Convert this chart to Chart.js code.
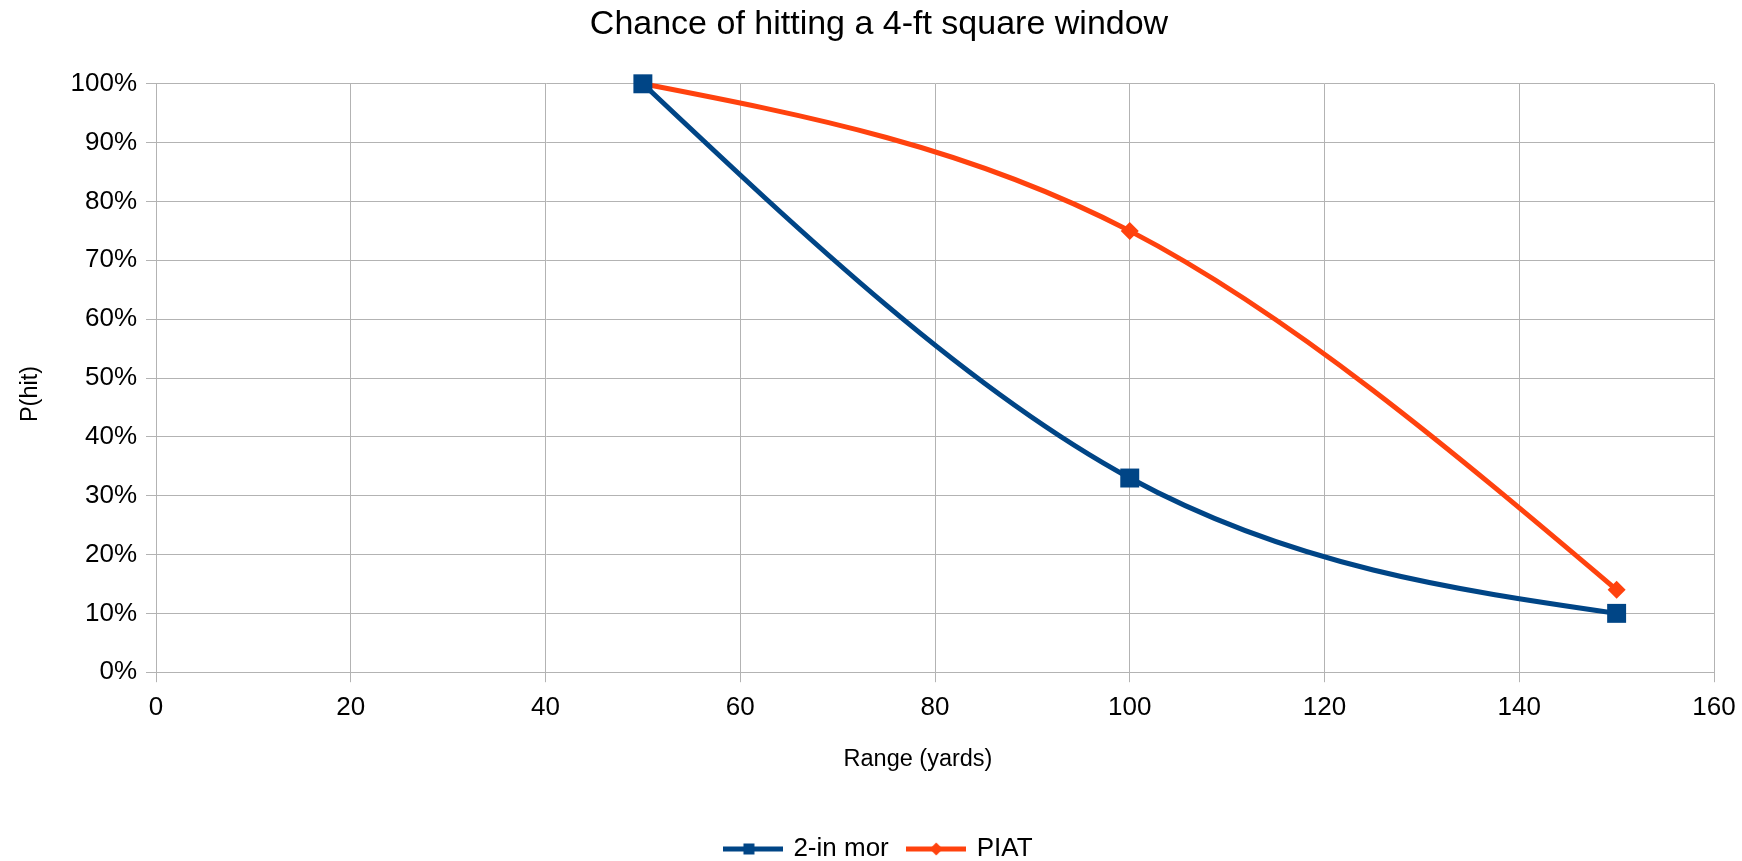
<!DOCTYPE html>
<html>
<head>
<meta charset="utf-8">
<title>Chance of hitting a 4-ft square window</title>
<script src="https://cdn.jsdelivr.net/npm/chart.js@4.4.1/dist/chart.umd.min.js"></script>
<style>
    html, body { margin: 0; padding: 0; background: #ffffff; }
    #wrap { width: 1742px; height: 861px; }
</style>
</head>
<body>
<div id="wrap"><canvas id="chart" width="1742" height="861"></canvas></div>
<script>
/* ==========================
   DADOS
========================== */
const ranges = [50, 100, 150];
const mortarHit = [1.00, 0.33, 0.10];
const piatHit = [1.00, 0.75, 0.14];
const seriesNames = ["2-in mor", "PIAT"];
const xTicks = [0, 20, 40, 60, 80, 100, 120, 140, 160];
const yTicks = [0, 0.1, 0.2, 0.3, 0.4, 0.5, 0.6, 0.7, 0.8, 0.9, 1.0];

const BLUE = "#004586";
const ORANGE = "#ff420e";
const GRID = "#b3b3b3";
const FONT = "'Liberation Sans', Arial, sans-serif";

function toPoints(xs, ys) {
    return xs.map((x, i) => ({ x: x, y: ys[i] }));
}

/* ==========================
   SPLINE CÚBICA NATURAL (como no LibreOffice)
========================== */
function naturalSlopes(xs, ys) {
    const n = xs.length;
    const h = [], d = [];
    for (let i = 0; i < n - 1; i++) {
        h[i] = xs[i + 1] - xs[i];
        d[i] = (ys[i + 1] - ys[i]) / h[i];
    }
    const M = new Array(n).fill(0);
    if (n > 2) {
        const cp = [], rp = [];
        for (let i = 1; i < n - 1; i++) {
            const a = h[i - 1], b = 2 * (h[i - 1] + h[i]), c = h[i];
            const r = 6 * (d[i] - d[i - 1]);
            const m = b - (i > 1 ? a * cp[i - 1] : 0);
            cp[i] = c / m;
            rp[i] = (r - (i > 1 ? a * rp[i - 1] : 0)) / m;
        }
        for (let i = n - 2; i >= 1; i--) {
            M[i] = rp[i] - (i < n - 2 ? cp[i] * M[i + 1] : 0);
        }
    }
    const s = [];
    for (let i = 0; i < n - 1; i++) s[i] = d[i] - h[i] * (2 * M[i] + M[i + 1]) / 6;
    s[n - 1] = d[n - 2] + h[n - 2] * (M[n - 2] + 2 * M[n - 1]) / 6;
    return s;
}

const naturalSpline = {
    id: "naturalSpline",
    beforeDatasetDraw(chart, args) {
        const line = args.meta.dataset;
        const pts = args.meta.data;
        if (!line || pts.length < 2) return;
        const xs = pts.map(p => p.x);
        const ys = pts.map(p => p.y);
        const s = naturalSlopes(xs, ys);
        for (let i = 0; i < pts.length; i++) {
            const hPrev = i > 0 ? (xs[i] - xs[i - 1]) / 3 : 0;
            const hNext = i < pts.length - 1 ? (xs[i + 1] - xs[i]) / 3 : 0;
            pts[i].cp1x = xs[i] - hPrev;
            pts[i].cp1y = ys[i] - s[i] * hPrev;
            pts[i].cp2x = xs[i] + hNext;
            pts[i].cp2y = ys[i] + s[i] * hNext;
        }
        line._pointsUpdated = true;
        delete line._path;
    }
};

/* ==========================
   ÍCONES DA LEGENDA (linha + marcador)
========================== */
function legendIcon(color, style) {
    const c = document.createElement("canvas");
    c.width = 60;
    c.height = 24;
    const ctx = c.getContext("2d");
    ctx.strokeStyle = color;
    ctx.fillStyle = color;
    ctx.lineWidth = 5;
    ctx.beginPath();
    ctx.moveTo(0, 12);
    ctx.lineTo(60, 12);
    ctx.stroke();
    ctx.beginPath();
    if (style === "rect") {
        ctx.rect(20.5, 6.5, 11, 11);
    } else {
        ctx.moveTo(30, 5.5);
        ctx.lineTo(36.5, 12);
        ctx.lineTo(30, 18.5);
        ctx.lineTo(23.5, 12);
        ctx.closePath();
    }
    ctx.fill();
    return c;
}

const icons = [legendIcon(BLUE, "rect"), legendIcon(ORANGE, "rectRot")];

// títulos dos eixos deslocados como no original
function shiftTitle(scale, dx, dy) {
    if (scale._titleShifted) return;
    const orig = scale.drawTitle.bind(scale);
    scale.drawTitle = function () {
        this.ctx.save();
        this.ctx.translate(dx, dy);
        orig();
        this.ctx.restore();
    };
    scale._titleShifted = true;
}

/* ==========================
   CHART
========================== */
new Chart(document.getElementById("chart"), {
    type: "line",
    plugins: [naturalSpline],
    data: {
        datasets: [
            {
                label: seriesNames[0],
                data: toPoints(ranges, mortarHit),
                borderColor: BLUE,
                backgroundColor: BLUE,
                borderWidth: 5,
                pointStyle: "rect",
                pointRadius: 13.4,
                pointHoverRadius: 13.4,
                pointBorderWidth: 0,
                tension: 0.4,
                clip: false
            },
            {
                label: seriesNames[1],
                data: toPoints(ranges, piatHit),
                borderColor: ORANGE,
                backgroundColor: ORANGE,
                borderWidth: 5,
                pointStyle: "rectRot",
                pointRadius: 9,
                pointHoverRadius: 9,
                pointBorderWidth: 0,
                tension: 0.4,
                clip: false
            }
        ]
    },
    options: {
        responsive: false,
        animation: false,
        layout: { padding: { left: 16, right: 0, top: 0, bottom: -11 } },
        plugins: {
            title: {
                display: true,
                text: "Chance of hitting a 4-ft square window",
                color: "#000000",
                font: { family: FONT, size: 34, weight: "normal" },
                padding: { top: 4, bottom: 39 }
            },
            legend: {
                position: "bottom",
                labels: {
                    color: "#000000",
                    font: { family: FONT, size: 26 },
                    usePointStyle: true,
                    pointStyleWidth: 55,
                    padding: 20,
                    generateLabels: (chart) => chart.data.datasets.map((ds, i) => ({
                        text: ds.label,
                        fillStyle: ds.borderColor,
                        strokeStyle: ds.borderColor,
                        fontColor: "#000000",
                        pointStyle: icons[i],
                        lineWidth: 0,
                        datasetIndex: i
                    }))
                }
            },
            tooltip: { enabled: false }
        },
        scales: {
            x: {
                type: "linear",
                min: 0,
                max: 160,
                afterBuildTicks: (scale) => { scale.ticks = xTicks.map(v => ({ value: v })); },
                afterFit: (scale) => {
                    scale.height = 143.8;
                    scale.paddingRight = 28;
                    shiftTitle(scale, -17, 0);
                },
                grid: { color: GRID, lineWidth: 1, tickLength: 10 },
                border: { color: GRID, width: 1 },
                ticks: {
                    color: "#000000",
                    font: { family: FONT, size: 26 },
                    padding: 10,
                    maxRotation: 0
                },
                title: {
                    display: true,
                    text: "Range (yards)",
                    color: "#000000",
                    font: { family: FONT, size: 23.5 },
                    padding: { top: 25, bottom: 42 }
                }
            },
            y: {
                min: 0,
                max: 1,
                afterBuildTicks: (scale) => { scale.ticks = yTicks.map(v => ({ value: v })); },
                afterFit: (scale) => {
                    scale.width = 140;
                    shiftTitle(scale, 0, 16);
                },
                grid: { color: GRID, lineWidth: 1, tickLength: 10 },
                border: { color: GRID, width: 1 },
                ticks: {
                    color: "#000000",
                    font: { family: FONT, size: 26 },
                    padding: 9,
                    callback: (v) => Math.round(v * 100) + "%"
                },
                title: {
                    display: true,
                    text: "P(hit)",
                    color: "#000000",
                    font: { family: FONT, size: 23.5 },
                    padding: { top: 0, bottom: 0 }
                }
            }
        }
    }
});
</script>
</body>
</html>
